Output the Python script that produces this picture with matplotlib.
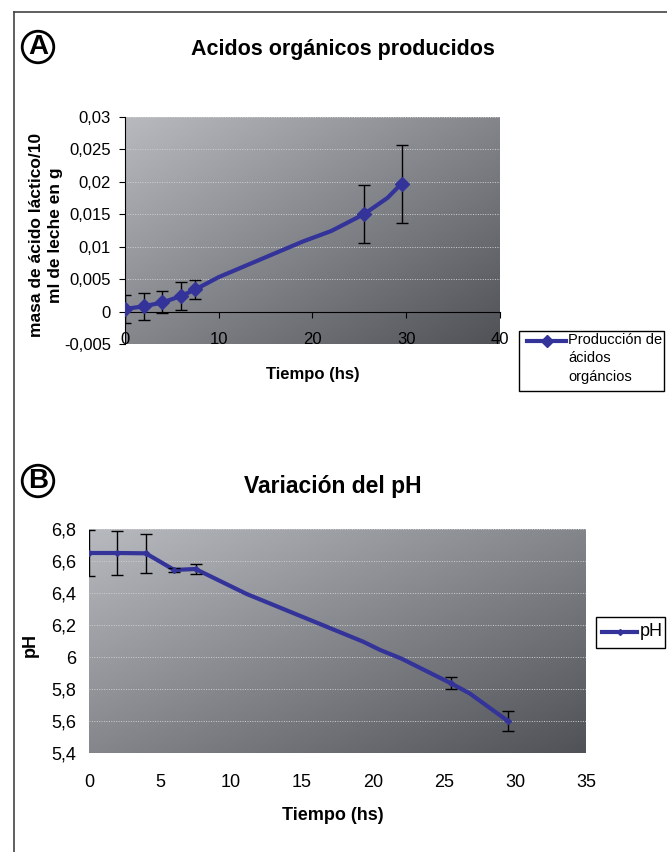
import numpy as np
import matplotlib
matplotlib.use('Agg')
import matplotlib.pyplot as plt
from matplotlib.lines import Line2D
from matplotlib.patches import Rectangle
from matplotlib.ticker import FuncFormatter

plt.rcParams['font.family'] = ['Liberation Sans', 'DejaVu Sans']
NARROW = ['Liberation Sans Narrow', 'Liberation Sans', 'DejaVu Sans']

# --- A: acidos organicos (g acido lactico / 10 ml leche) ---
a_x = [0, 2, 4, 6, 7.5, 25.5, 29.5]
a_y = [0.0004, 0.0008, 0.0014, 0.0024, 0.0034, 0.0150, 0.0197]
a_err = [0.0021, 0.0021, 0.0017, 0.0021, 0.0015, 0.0045, 0.0060]
# smoothed curve as drawn in the original
a_line_x = [0, 2, 4, 6, 7.5, 10, 19, 22, 25.5, 28, 29.5]
a_line_y = [0.0004, 0.0008, 0.0014, 0.0024, 0.0034, 0.0053, 0.0108, 0.0124, 0.0150, 0.0175, 0.0197]
a_yticks = [-0.005, 0, 0.005, 0.01, 0.015, 0.02, 0.025, 0.03]
a_xticks = [0, 10, 20, 30, 40]

# --- B: pH ---
b_x = [0, 2, 4, 6, 7.5, 25.5, 29.5]
b_y = [6.65, 6.65, 6.648, 6.544, 6.55, 5.835, 5.60]
b_err = [0.145, 0.14, 0.12, 0.015, 0.03, 0.038, 0.063]
b_line_x = [0, 2, 4, 6, 7.5, 11.1, 19.3, 20.5, 22, 25.5, 26.8, 29.5]
b_line_y = [6.65, 6.65, 6.648, 6.544, 6.55, 6.394, 6.096, 6.044, 5.99, 5.835, 5.773, 5.60]
b_yticks = [5.4, 5.6, 5.8, 6.0, 6.2, 6.4, 6.6, 6.8]
b_xticks = [0, 5, 10, 15, 20, 25, 30, 35]

BLUE = '#333399'
W, H = 667, 852

comma = FuncFormatter(lambda v, p: ('%g' % v).replace('.', ','))


def fx(px):
    return px / W


def fy(py):
    return 1 - py / H


def gradient(ax):
    xx, yy = np.meshgrid(np.linspace(0, 1, 300), np.linspace(0, 1, 300))
    t = (xx + yy) / 2
    light = np.array([0.72, 0.73, 0.75])
    dark = np.array([0.31, 0.32, 0.34])
    img = light + (dark - light) * t[..., None]
    ax.imshow(img, extent=[0, 1, 0, 1], transform=ax.transAxes,
              aspect='auto', zorder=0, origin='upper')


def circled(x, y, letter):
    fig.text(fx(x), fy(y), letter, fontsize=20, fontweight='bold',
             ha='center', va='center',
             bbox=dict(boxstyle='circle,pad=0.1', fc='white', ec='black', lw=2))


fig = plt.figure(figsize=(W / 100, H / 100), dpi=100)

# outer frame
fig.add_artist(Line2D([fx(14), 1], [fy(12), fy(12)], color='#444444', lw=1.2))
fig.add_artist(Line2D([fx(14), fx(14)], [0, fy(12)], color='#444444', lw=1.2))

# ---------------- panel A ----------------
axA = fig.add_axes([fx(125), fy(344), (500 - 125) / W, (344 - 116.7) / H])
gradient(axA)
for v in a_yticks[2:]:
    axA.axhline(v, color='#cfcfcf', lw=0.7, ls=(0, (1, 1.5)), zorder=1)
axA.plot(a_line_x, a_line_y, color=BLUE, lw=3, zorder=3, solid_capstyle='round')
axA.errorbar(a_x, a_y, yerr=a_err, fmt='D', color=BLUE, ms=7,
             ecolor='black', elinewidth=1, capsize=4, capthick=1, zorder=4)
axA.set_xlim(0, 40)
axA.set_ylim(-0.005, 0.03)
axA.set_xticks(a_xticks)
axA.set_yticks(a_yticks)
axA.yaxis.set_major_formatter(comma)
axA.spines['top'].set_visible(False)
axA.spines['right'].set_visible(False)
axA.spines['bottom'].set_position(('data', 0))
axA.tick_params(axis='x', direction='out', length=4, pad=11, labelsize=12)
axA.tick_params(axis='y', direction='out', length=4, pad=6, labelsize=12)

fig.text(fx(343), fy(50), 'Acidos orgánicos producidos', fontsize=15.5,
         fontweight='bold', ha='center', va='center')
fig.text(fx(46), fy(235), 'masa de ácido láctico/10\nml de leche en g', fontsize=12.5,
         fontweight='bold', rotation=90, ha='center', va='center',
         multialignment='center', linespacing=1.35)
fig.text(fx(313), fy(374), 'Tiempo (hs)', fontsize=12, fontweight='bold',
         ha='center', va='center')
circled(38, 47, 'A')

# legend A
fig.add_artist(Rectangle((fx(519), fy(391)), 145 / W, 60 / H, transform=fig.transFigure,
                         fc='white', ec='black', lw=1))
fig.add_artist(Line2D([fx(527), fx(547), fx(566)], [fy(341)] * 3, color=BLUE, lw=3,
                      marker='D', ms=6, markevery=[1]))
fig.text(fx(568), fy(333), 'Producción de\nácidos\norgáncios', fontsize=10.5,
         va='top', ha='left', linespacing=1.4)

# ---------------- panel B ----------------
axB = fig.add_axes([fx(89), fy(753), (586 - 89) / W, (753 - 529) / H])
gradient(axB)
for v in b_yticks[1:]:
    axB.axhline(v, color='#cfcfcf', lw=0.7, ls=(0, (1, 1.5)), zorder=1)
axB.plot(b_line_x, b_line_y, color=BLUE, lw=3, zorder=3, solid_capstyle='round')
axB.errorbar(b_x, b_y, yerr=b_err, fmt='D', color=BLUE, ms=3,
             ecolor='black', elinewidth=1, capsize=4, capthick=1, zorder=4)
axB.set_xlim(0, 35)
axB.set_ylim(5.4, 6.8)
axB.set_xticks(b_xticks)
axB.set_yticks(b_yticks)
axB.yaxis.set_major_formatter(comma)
for s in axB.spines.values():
    s.set_visible(False)
axB.tick_params(axis='x', length=0, pad=15, labelsize=13)
axB.tick_params(axis='y', length=0, pad=9, labelsize=13)
for lbl in axB.get_xticklabels() + axB.get_yticklabels():
    lbl.set_family(NARROW)

fig.text(fx(333), fy(487), 'Variación del pH', fontsize=16.5, fontweight='bold',
         family=NARROW, ha='center', va='center')
fig.text(fx(333), fy(815), 'Tiempo (hs)', fontsize=13, fontweight='bold',
         family=NARROW, ha='center', va='center')
fig.text(fx(30), fy(645), 'pH', fontsize=13, fontweight='bold', family=NARROW,
         rotation=90, ha='center', va='center')
circled(38, 481, 'B')

# legend B
fig.add_artist(Rectangle((fx(596), fy(648)), 69 / W, 31 / H, transform=fig.transFigure,
                         fc='white', ec='black', lw=1))
fig.add_artist(Line2D([fx(602), fx(620), fx(637)], [fy(632)] * 3, color=BLUE, lw=3,
                      marker='D', ms=3, markevery=[1]))
fig.text(fx(640), fy(632), 'pH', fontsize=13, family=NARROW, va='center', ha='left')

fig.savefig('out.png', dpi=100)
